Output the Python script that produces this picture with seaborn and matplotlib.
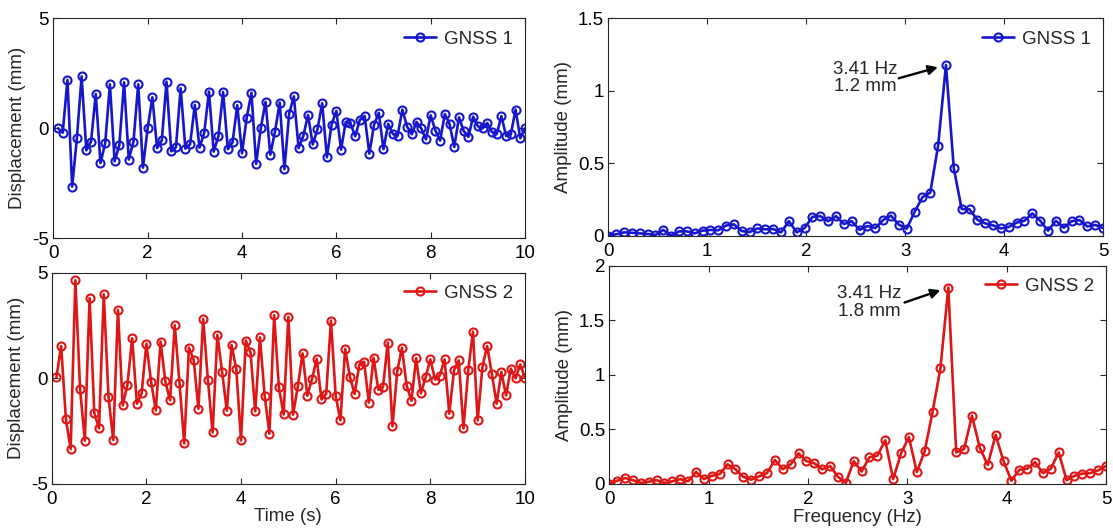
import numpy as np
import matplotlib
matplotlib.use("Agg")
import matplotlib.pyplot as plt
import seaborn as sns
from matplotlib.ticker import FormatStrFormatter

# ---------------- data ----------------
time_s = np.round(np.arange(1, 101) * 0.1, 1)

disp_gnss1 = [
    0.0, -0.2, 2.2, -2.65, -0.45, 2.36, -1.0, -0.6, 1.56, -1.58,
    -0.68, 2.0, -1.5, -0.76, 2.09, -1.42, -0.6, 2.0, -1.79, 0.0,
    1.41, -0.9, -0.55, 2.12, -1.05, -0.86, 1.82, -0.92, -0.73, 1.06,
    -0.88, -0.2, 1.67, -1.06, -0.36, 1.65, -0.95, -0.64, 1.05, -1.14,
    0.48, 1.62, -1.62, 0.03, 1.2, -1.2, -0.15, 1.17, -1.86, 0.67,
    1.45, -0.9, -0.35, 0.6, -0.73, -0.05, 1.14, -1.32, 0.17, 0.79,
    -0.97, 0.29, 0.23, -0.36, 0.39, 0.56, -1.15, 0.17, 0.7, -0.95,
    0.2, -0.26, -0.33, 0.85, 0.08, -0.27, 0.29, 0.0, -0.5, 0.59,
    -0.1, -0.56, 0.65, 0.2, -0.85, 0.5, -0.12, -0.39, 0.53, 0.09,
    0.0, 0.24, -0.17, -0.26, 0.55, -0.35, -0.27, 0.85, -0.45, 0.0,
]

disp_gnss2 = [
    0.06, 1.53, -1.93, -3.35, 4.64, -0.52, -2.95, 3.8, -1.64, -2.37,
    3.98, -0.87, -2.92, 3.24, -1.28, -0.3, 1.9, -1.2, -0.71, 1.64,
    -0.17, -1.52, 1.74, -0.13, -1.04, 2.51, -0.22, -3.08, 1.45, 0.87,
    -1.44, 2.81, -0.06, -2.56, 2.05, 0.32, -1.53, 1.58, 0.43, -2.94,
    1.79, 1.23, -1.56, 1.94, -0.84, -2.62, 2.99, -0.43, -1.71, 2.91,
    -1.72, -0.38, 1.18, -0.82, -0.03, 0.92, -1.0, -0.73, 2.73, -0.84,
    -1.99, 1.39, 0.08, -0.74, 0.65, 0.79, -1.15, 0.98, -0.54, -0.41,
    1.69, -2.27, 0.33, 1.44, -0.35, -1.06, 0.95, -0.71, 0.05, 0.9,
    -0.06, 0.13, 0.9, -1.67, 0.38, 0.85, -2.37, 0.38, 2.21, -1.99,
    0.54, 1.53, 0.21, -1.2, 0.3, -0.81, 0.46, 0.0, 0.66, 0.02,
]

freq_hz = np.linspace(0, 5, 64)

amp_gnss1 = [
    0.0, 0.01, 0.023, 0.02, 0.016, 0.012, 0.005, 0.04, 0.0, 0.03,
    0.03, 0.016, 0.035, 0.04, 0.037, 0.07, 0.078, 0.032, 0.025, 0.05,
    0.044, 0.046, 0.023, 0.1, 0.023, 0.053, 0.13, 0.135, 0.1, 0.135,
    0.08, 0.10, 0.04, 0.067, 0.053, 0.108, 0.138, 0.076, 0.048, 0.163,
    0.265, 0.297, 0.62, 1.178, 0.465, 0.184, 0.182, 0.11, 0.085, 0.071,
    0.05, 0.06, 0.09, 0.103, 0.154, 0.103, 0.035, 0.103, 0.055, 0.1,
    0.108, 0.064, 0.074, 0.053,
]

amp_gnss2 = [
    0.0, 0.03, 0.055, 0.035, 0.01, 0.02, 0.035, 0.01, 0.025, 0.045,
    0.025, 0.11, 0.045, 0.075, 0.09, 0.18, 0.135, 0.065, 0.04, 0.07,
    0.1, 0.22, 0.135, 0.18, 0.28, 0.21, 0.19, 0.135, 0.165, 0.065,
    0.01, 0.21, 0.115, 0.245, 0.26, 0.40, 0.045, 0.28, 0.43, 0.11,
    0.30, 0.66, 1.06, 1.80, 0.29, 0.32, 0.625, 0.33, 0.175, 0.45,
    0.21, 0.03, 0.13, 0.14, 0.2, 0.1, 0.14, 0.29, 0.035, 0.075,
    0.095, 0.1, 0.125, 0.165,
]

series_labels = ["GNSS 1", "GNSS 2"]
peak_labels = ["3.41 Hz\n1.2 mm", "3.41 Hz\n1.8 mm"]

# ---------------- style ----------------
sns.set_theme(style="ticks")
plt.rcParams["font.family"] = ["Liberation Sans", "DejaVu Sans"]
plt.rcParams["font.size"] = 13.5
plt.rcParams["axes.edgecolor"] = "#262626"
plt.rcParams["axes.linewidth"] = 0.8

BLUE = "#1616cc"
RED = "#de1616"
FS = 13.5

fig = plt.figure(figsize=(11.13, 5.31), dpi=100)
W, H = 1113.0, 531.0


def add_ax(l, t, r, b):
    return fig.add_axes([l / W, 1 - b / H, (r - l) / W, (b - t) / H])


ax_tl = add_ax(53.3, 18.3, 525, 238.3)
ax_bl = add_ax(51.7, 272.7, 525, 484)
ax_tr = add_ax(608.3, 18.3, 1103, 235.7)
ax_br = add_ax(609.3, 265.7, 1106, 484)


def draw(ax, x, y, color, label):
    sns.lineplot(x=x, y=y, ax=ax, color=color, marker="o", markersize=5.8,
                 markerfacecolor="none", markeredgecolor=color,
                 markeredgewidth=1.5, linewidth=1.9, label=label)
    ax.legend(loc="upper right", frameon=False, fontsize=FS,
              handlelength=1.7, handletextpad=0.4, borderaxespad=0.25,
              borderpad=0.4)


def style(ax, xlim, xticks, ylim, yticks):
    ax.set_xlim(*xlim)
    ax.set_ylim(*ylim)
    ax.set_xticks(xticks)
    ax.set_yticks(yticks)
    ax.xaxis.set_major_formatter(FormatStrFormatter("%g"))
    ax.yaxis.set_major_formatter(FormatStrFormatter("%g"))
    ax.tick_params(direction="in", top=True, right=True, length=4,
                   width=0.8, labelsize=FS, colors="#262626",
                   labelcolor="black")
    ax.tick_params(axis="x", pad=5)
    ax.tick_params(axis="y", pad=3)
    for s in ax.spines.values():
        s.set_visible(True)
        s.set_color("#262626")
    ax.set_xlabel("")
    ax.set_ylabel("")


draw(ax_tl, time_s, disp_gnss1, BLUE, series_labels[0])
draw(ax_bl, time_s, disp_gnss2, RED, series_labels[1])
draw(ax_tr, freq_hz, amp_gnss1, BLUE, series_labels[0])
draw(ax_br, freq_hz, amp_gnss2, RED, series_labels[1])

style(ax_tl, (0, 10), [0, 2, 4, 6, 8, 10], (-5, 5), [-5, 0, 5])
style(ax_bl, (0, 10), [0, 2, 4, 6, 8, 10], (-5, 5), [-5, 0, 5])
style(ax_tr, (0, 5), [0, 1, 2, 3, 4, 5], (0, 1.5), [0, 0.5, 1, 1.5])
style(ax_br, (0, 5), [0, 1, 2, 3, 4, 5], (0, 2), [0, 0.5, 1, 1.5, 2])

for ax in (ax_tl, ax_bl):
    ax.set_ylabel("Displacement (mm)", fontsize=FS)
    ax.yaxis.set_label_coords(-0.057, 0.5)
for ax in (ax_tr, ax_br):
    ax.set_ylabel("Amplitude (mm)", fontsize=FS)
    ax.yaxis.set_label_coords(-0.074, 0.5)

ax_bl.set_xlabel("Time (s)", fontsize=FS)
ax_bl.xaxis.set_label_coords(0.5, -0.115)
ax_br.set_xlabel("Frequency (Hz)", fontsize=FS)
ax_br.xaxis.set_label_coords(0.5, -0.115)

# peak annotations
for ax, amps, txt, toff, aoff in (
    (ax_tr, amp_gnss1, peak_labels[0], (-58, -9.5), (-34, -9.6)),
    (ax_br, amp_gnss2, peak_labels[1], (-56.7, -11), (-31.5, -10.8)),
):
    ip = int(np.argmax(amps))
    px, py = freq_hz[ip], amps[ip]
    ax.annotate(txt, xy=(px, py), xytext=toff, textcoords="offset points",
                ha="center", va="center", fontsize=FS, linespacing=1.05)
    ax.annotate("", xy=(px, py), xytext=aoff, textcoords="offset points",
                arrowprops=dict(arrowstyle="-|>", color="black", lw=1.7,
                                mutation_scale=14, shrinkA=0, shrinkB=6))

fig.savefig("out.png", dpi=100)
